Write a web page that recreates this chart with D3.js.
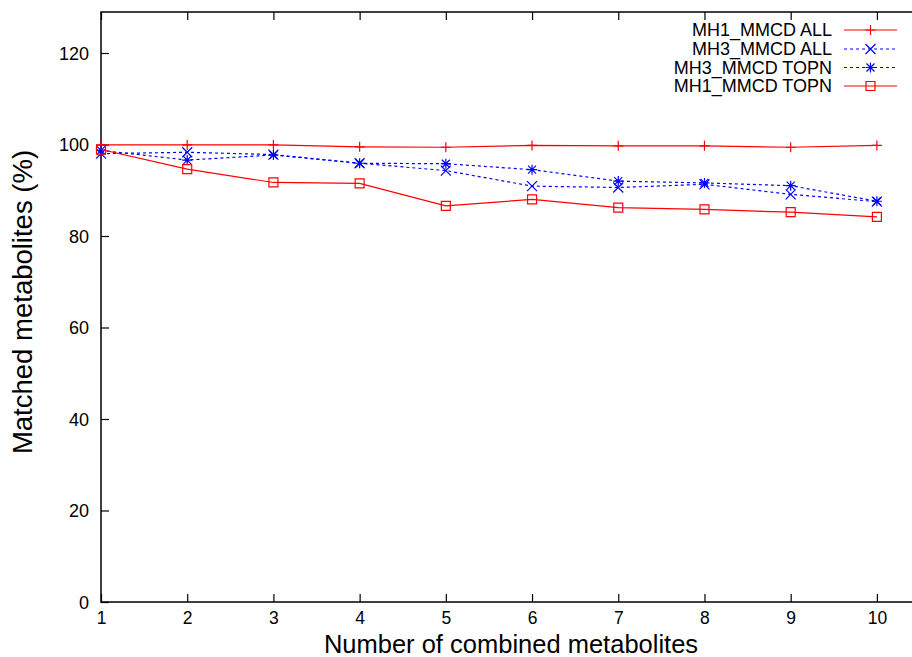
<!DOCTYPE html>
<html><head><meta charset="utf-8">
<script src="https://cdn.jsdelivr.net/npm/d3@7"></script>
<style>body{margin:0;background:#fff;overflow:hidden}svg{display:block}text{font-family:"Liberation Sans",Arial,Helvetica,sans-serif}</style>
</head><body>
<script>
const xValues = [1,2,3,4,5,6,7,8,9,10];
const yTicks = [0,20,40,60,80,100,120];
const seriesNames = ["MH1_MMCD ALL","MH3_MMCD ALL","MH3_MMCD TOPN","MH1_MMCD TOPN"];
const mh1All  = [99.9,99.9,99.9,99.5,99.4,99.8,99.7,99.7,99.4,99.8];
const mh3All  = [98.0,98.3,97.8,95.9,94.3,90.9,90.6,91.3,89.1,87.5];
const mh3TopN = [98.7,96.6,97.7,95.9,95.8,94.5,92.0,91.6,91.0,87.6];
const mh1TopN = [98.9,94.6,91.7,91.5,86.6,88.0,86.2,85.8,85.2,84.2];
const seriesColors = ["#ff0000","#0000ff","#0000ff","#ff0000"];
const seriesDash = [null,"3,3","3,3",null];
const seriesMarker = ["plus","cross","star","square"];
const allSeries = [mh1All, mh3All, mh3TopN, mh1TopN];

const W=912,H=657;
const svg=d3.select("body").append("svg").attr("width",W).attr("height",H);
const L=101,T=12,B=602,R=920;
const x=d3.scaleLinear().domain([1,10.5]).range([L,R]);
const y=d3.scaleLinear().domain([0,120]).range([B,53]);

// frame
svg.append("rect").attr("x",L).attr("y",T).attr("width",R-L).attr("height",B-T)
  .attr("fill","none").attr("stroke","#000").attr("stroke-width",1.5);

// axes with ticks (inward, mirrored)
const tl=8;
const xAx=svg.append("g").attr("transform",`translate(0,${B})`)
  .call(d3.axisBottom(x).tickValues(xValues).tickSize(-tl).tickPadding(10).tickFormat(d3.format("d")));
const xAxT=svg.append("g").attr("transform",`translate(0,${T})`)
  .call(d3.axisTop(x).tickValues(xValues).tickSize(-tl).tickFormat(""));
const yAx=svg.append("g").attr("transform",`translate(${L},0)`)
  .call(d3.axisLeft(y).tickValues(yTicks).tickSize(-tl).tickPadding(12).tickFormat(d3.format("d")));
const yAxR=svg.append("g").attr("transform",`translate(${R},0)`)
  .call(d3.axisRight(y).tickValues(yTicks).tickSize(-tl).tickFormat(""));
[xAx,xAxT,yAx,yAxR].forEach(g=>{
  g.select(".domain").remove();
  g.selectAll(".tick line").attr("stroke","#000").attr("stroke-width",1.2);
  g.selectAll("text").attr("font-size",18).attr("fill","#000").attr("font-family","Liberation Sans, Arial, sans-serif");
});
xAx.selectAll("text").attr("dy","0.71em").attr("font-size",17.5);
yAx.selectAll("text").attr("dy","0.36em");

// axis titles
svg.append("text").attr("x",511).attr("y",653).attr("text-anchor","middle")
  .attr("font-size",25.5).text("Number of combined metabolites");
svg.append("text").attr("transform",`translate(32,${302}) rotate(-90)`).attr("text-anchor","middle")
  .attr("font-size",27.5).text("Matched metabolites (%)");

function marker(g,type,cx,cy,color){
  const s=5;
  const p=g.append("path").attr("fill","none").attr("stroke",color).attr("stroke-width",1.2);
  let d="";
  if(type==="plus") d=`M${cx-s},${cy}H${cx+s}M${cx},${cy-s}V${cy+s}`;
  else if(type==="cross") d=`M${cx-s},${cy-s}L${cx+s},${cy+s}M${cx-s},${cy+s}L${cx+s},${cy-s}`;
  else if(type==="star") d=`M${cx-s},${cy}H${cx+s}M${cx},${cy-s}V${cy+s}M${cx-s+1},${cy-s+1}L${cx+s-1},${cy+s-1}M${cx-s+1},${cy+s-1}L${cx+s-1},${cy-s+1}`;
  else if(type==="square") d=`M${cx-4.5},${cy-4.5}h9v9h-9Z`;
  p.attr("d",d);
}

const line=d3.line().x((d,i)=>x(xValues[i])).y(d=>y(d));
const plot=svg.append("g");
allSeries.forEach((vals,k)=>{
  plot.append("path").datum(vals).attr("d",line).attr("fill","none")
    .attr("stroke",seriesColors[k]).attr("stroke-width",1.2)
    .attr("stroke-dasharray",seriesDash[k]);
  vals.forEach((v,i)=>marker(plot,seriesMarker[k],x(xValues[i]),y(v),seriesColors[k]));
});

// legend
const legY=[30,49,67.5,86];
seriesNames.forEach((n,k)=>{
  svg.append("text").attr("x",832).attr("y",legY[k]).attr("dy","0.36em").attr("text-anchor","end")
    .attr("font-size",18).text(n);
  svg.append("line").attr("x1",844).attr("x2",897).attr("y1",legY[k]).attr("y2",legY[k])
    .attr("stroke",seriesColors[k]).attr("stroke-width",1.2).attr("stroke-dasharray",seriesDash[k]);
  marker(svg,seriesMarker[k],870.5,legY[k],seriesColors[k]);
});
</script>
</body></html>
